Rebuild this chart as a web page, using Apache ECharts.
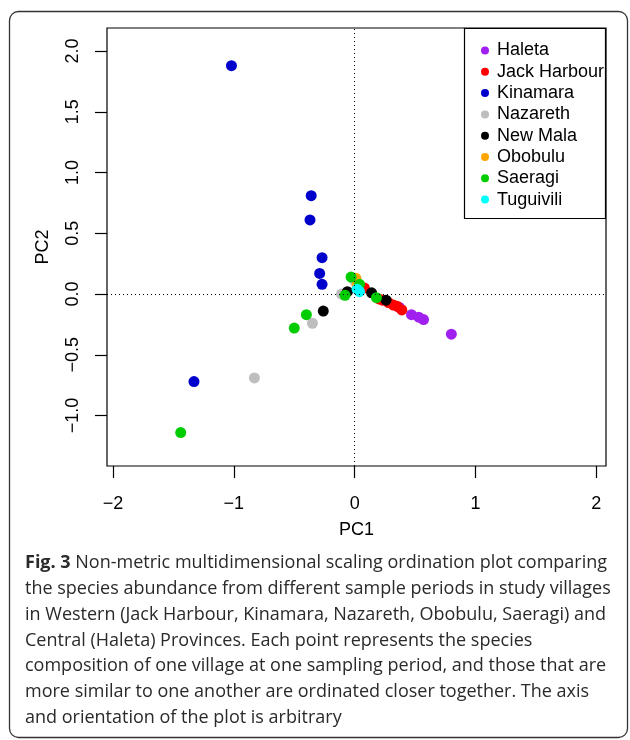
<!DOCTYPE html>
<html><head><meta charset="utf-8">
<script src="https://cdn.jsdelivr.net/npm/echarts@6/dist/echarts.min.js"></script>
<style>html,body{margin:0;padding:0;background:#fff}#c{width:630px;height:740px}</style>
</head><body><div id="c"></div>
<script>
const villages = ['Haleta','Jack Harbour','Kinamara','Nazareth','New Mala','Obobulu','Saeragi','Tuguivili'];
const colors = ['#A020F0','#FF0000','#0000CD','#BEBEBE','#000000','#FFA500','#00CD00','#00FFFF'];
const haleta = [[0.37,-0.11],[0.47,-0.17],[0.53,-0.19],[0.57,-0.21],[0.80,-0.33]];
const jackHarbour = [[0.08,0.05],[0.20,-0.04],[0.23,-0.05],[0.28,-0.07],[0.32,-0.09],[0.35,-0.10],[0.39,-0.13]];
const kinamara = [[-1.02,1.88],[-0.36,0.81],[-0.37,0.61],[-0.27,0.30],[-0.29,0.17],[-0.27,0.08],[-1.33,-0.72]];
const nazareth = [[-0.83,-0.69],[-0.35,-0.24],[-0.11,0.0],[0.0,0.11]];
const newMala = [[-0.26,-0.14],[-0.06,0.02],[0.14,0.01],[0.26,-0.05]];
const obobulu = [[0.01,0.13],[0.02,0.07]];
const saeragi = [[-1.44,-1.14],[-0.50,-0.28],[-0.40,-0.17],[-0.08,-0.01],[-0.03,0.14],[0.04,0.08],[0.18,-0.03]];
const tuguivili = [[0.04,0.02],[0.02,0.04]];
const seriesData = [haleta,jackHarbour,kinamara,nazareth,newMala,obobulu,saeragi,tuguivili];
const xTicks = [-2,-1,0,1,2];
const yTicks = [-1,-0.5,0,0.5,1,1.5,2];
const captionLines = [
  'Non-metric multidimensional scaling ordination plot comparing',
  'the species abundance from different sample periods in study villages',
  'in Western (Jack Harbour, Kinamara, Nazareth, Obobulu, Saeragi) and',
  'Central (Haleta) Provinces. Each point represents the species',
  'composition of one village at one sampling period, and those that are',
  'more similar to one another are ordinated closer together. The axis',
  'and orientation of the plot is arbitrary'
];

const minus = v => (v < 0 ? '\u2212' : '') + Math.abs(v);
const axFont = {fontFamily:"'Liberation Sans', Arial, sans-serif", fontSize:18, color:'#000'};

const series = villages.map((name,i) => ({
  name, type:'scatter', data: seriesData[i], symbolSize:11,
  itemStyle:{color:colors[i], opacity:1}, emphasis:{disabled:true}, z:3
}));
series.push({
  type:'scatter', data:[], silent:true,
  markLine:{silent:true, symbol:'none', label:{show:false},
    lineStyle:{color:'#000', type:[1,3], width:1},
    data:[{xAxis:0},{yAxis:0}]}
});

const capFont = "'Open Sans'";
const graphics = [
  {type:'rect', shape:{x:9.5,y:11.5,width:618,height:726,r:9}, style:{fill:'none',stroke:'#333',lineWidth:1.3}, z:-1},
  {type:'rect', shape:{x:464.5,y:28.5,width:141,height:190}, style:{fill:'#fff',stroke:'#000',lineWidth:1.2}, z:5}
];
captionLines.forEach((t,i) => {
  graphics.push({type:'text', left:25, top:554 + i*25.8, z:5,
    style:{text: i===0 ? '{b|Fig. 3} ' + t : t,
      font:'18px ' + capFont, fill:'#2a2a2a',
      rich:{b:{fontWeight:'bold', fontFamily:'Open Sans', fontSize:18, fill:'#2a2a2a'}}}});
});

const chart = echarts.init(document.getElementById('c'));
chart.setOption({
  animation:false,
  grid:{left:107, right:24, top:28, bottom:274, show:true, borderColor:'#000', borderWidth:1.2, containLabel:false},
  xAxis:{type:'value', min:-2.05, max:2.08, name:'PC1', nameLocation:'middle', nameGap:55,
    nameTextStyle:axFont, splitLine:{show:false}, axisLine:{show:false, onZero:false},
    axisTick:{show:true, length:12, customValues:xTicks, lineStyle:{color:'#000', width:1.2}},
    axisLabel:{customValues:xTicks, formatter:v=>minus(v), margin:29, ...axFont}},
  yAxis:{type:'value', min:-1.415, max:2.19, name:'PC2', nameLocation:'middle', nameGap:55,
    nameTextStyle:axFont, nameRotate:90, splitLine:{show:false}, axisLine:{show:false, onZero:false},
    axisTick:{show:true, length:12, customValues:yTicks, lineStyle:{color:'#000', width:1.2}},
    axisLabel:{customValues:yTicks, rotate:90, margin:25, formatter:v=>(v<0?'\u2212':'')+Math.abs(v).toFixed(1), ...axFont}},
  legend:{show:true, orient:'vertical', left:476, top:36.5, itemWidth:8, itemHeight:8, itemGap:3.3,
    icon:'circle', data:villages, selectedMode:false, z:6,
    textStyle:{fontFamily:"'Liberation Sans', Arial, sans-serif", fontSize:18, lineHeight:18, color:'#000', padding:[0,0,0,3]}},
  graphic:graphics,
  series
});
</script></body></html>
